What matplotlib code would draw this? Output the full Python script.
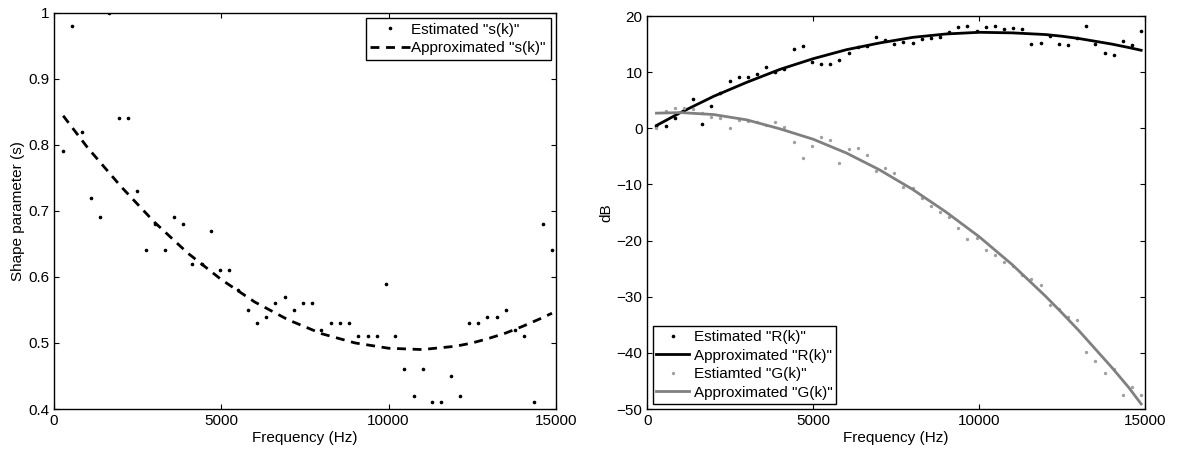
import matplotlib
matplotlib.use('Agg')
import matplotlib.pyplot as plt
import numpy as np

plt.rcParams['font.family'] = ['Liberation Sans', 'DejaVu Sans']
plt.rcParams['font.size'] = 11

# frequency bins (Hz), k = 1..54, step ~275.6 Hz
k = np.arange(1, 55)
freq = k * 275.625

# shape parameter estimates per bin
s_est = [0.79, 0.98, 0.82, 0.72, 0.69, 1.00, 0.84, 0.84, 0.73, 0.64,
         0.68, 0.64, 0.69, 0.68, 0.62, 0.62, 0.67, 0.61, 0.61, 0.58,
         0.55, 0.53, 0.54, 0.56, 0.57, 0.55, 0.56, 0.56, 0.52, 0.53,
         0.53, 0.53, 0.51, 0.51, 0.51, 0.59, 0.51, 0.46, 0.42, 0.46,
         0.41, 0.41, 0.45, 0.42, 0.53, 0.53, 0.54, 0.54, 0.55, 0.52,
         0.51, 0.41, 0.68, 0.64]

# R(k) and G(k) estimates in dB
r_est = [0.4, 0.4, 1.8, 3.3, 5.3, 0.8, 4.0, 6.2, 8.4, 9.1,
         9.2, 9.6, 11.0, 10.1, 10.5, 14.1, 14.7, 11.8, 11.5, 11.5,
         12.1, 13.5, 14.4, 14.6, 16.2, 15.7, 15.1, 15.4, 15.2, 15.9,
         16.1, 16.3, 17.1, 18.1, 18.3, 17.4, 18.1, 18.3, 17.6, 17.9,
         17.6, 15.0, 15.2, 16.5, 15.1, 14.9, 16.0, 18.2, 15.0, 13.4,
         13.1, 15.6, 14.9, 17.3]
g_est = [0.0, 3.0, 3.6, 3.6, 3.5, 2.7, 2.1, 1.9, 0.1, 1.5,
         1.3, 1.2, 0.6, 1.2, 0.3, -2.4, -5.3, -3.2, -1.5, -2.0,
         -6.1, -3.6, -3.5, -4.8, -7.6, -7.0, -8.0, -10.5, -10.7, -12.5,
         -13.8, -14.9, -15.8, -17.8, -19.8, -19.5, -21.7, -22.6, -23.8, -24.5,
         -26.1, -26.8, -28.0, -31.4, -32.1, -33.6, -34.2, -39.9, -41.5, -43.5,
         -42.8, -47.5, -46.1, -47.5]

# approximated curves
fit_freq = [275.6, 1000, 2000, 3000, 4000, 5000, 6000, 7000, 8000, 9000,
            10000, 11000, 12000, 12500, 13000, 13500, 14000, 14500, 14883.8]
s_fit = [0.844, 0.796, 0.737, 0.683, 0.636, 0.596, 0.562, 0.535, 0.514, 0.500,
         0.492, 0.490, 0.495, 0.500, 0.507, 0.515, 0.525, 0.536, 0.545]
r_fit = [0.5, 2.8, 5.7, 8.2, 10.5, 12.4, 14.0, 15.2, 16.2, 16.8,
         17.1, 17.0, 16.7, 16.4, 16.0, 15.5, 15.0, 14.4, 13.9]
g_fit = [2.7, 2.8, 2.45, 1.5, -0.1, -1.95, -4.4, -7.4, -10.9, -14.9,
         -19.3, -24.3, -29.9, -32.9, -36.0, -39.3, -42.6, -46.1, -49.1]

fig = plt.figure(figsize=(11.78, 4.5), dpi=100)
ax1 = fig.add_axes([0.0458, 0.0911, 0.4261, 0.8807])
ax2 = fig.add_axes([0.5495, 0.0911, 0.4225, 0.8733])

ax1.plot(freq, s_est, ls='none', marker='o', ms=1.6, color='black',
         label='Estimated "s(k)"')
ax1.plot(fit_freq, s_fit, ls='--', lw=2, color='black', dashes=(3.2, 2.4),
         label='Approximated "s(k)"')
ax1.set_xlim(0, 15000)
ax1.set_ylim(0.4, 1.0)
ax1.set_yticks(np.arange(0.4, 1.01, 0.1))
ax1.set_yticklabels(['0.4', '0.5', '0.6', '0.7', '0.8', '0.9', '1'])
ax1.set_xlabel('Frequency (Hz)')
ax1.set_ylabel('Shape parameter (s)')
ax1.legend(loc='upper right', fancybox=False, edgecolor='black',
           framealpha=1, borderaxespad=0.35, handlelength=2.6,
           handletextpad=0.1, borderpad=0.3, labelspacing=0.3,
           fontsize=11)

ax2.plot(freq, r_est, ls='none', marker='o', ms=1.6, color='black',
         label='Estimated "R(k)"')
ax2.plot(fit_freq, r_fit, lw=2, color='black', label='Approximated "R(k)"')
ax2.plot(freq, g_est, ls='none', marker='o', ms=1.4, color='#a0a0a0',
         label='Estiamted "G(k)"')
ax2.plot(fit_freq, g_fit, lw=2, color='#808080', label='Approximated "G(k)"')
ax2.set_xlim(0, 15000)
ax2.set_ylim(-50, 20)
ax2.set_yticks(np.arange(-50, 21, 10))
ax2.set_xlabel('Frequency (Hz)')
ax2.set_ylabel('dB')
ax2.legend(loc='lower left', fancybox=False, edgecolor='black',
           framealpha=1, borderaxespad=0.35, handlelength=2.1,
           handletextpad=0.35, borderpad=0.25, labelspacing=0.3,
           fontsize=11)

for ax in (ax1, ax2):
    ax.set_xticks([0, 5000, 10000, 15000])
    ax.tick_params(direction='in', top=True, right=True, length=3.6,
                   labelsize=11)
    for sp in ax.spines.values():
        sp.set_linewidth(1.0)
    ax.xaxis.labelpad = 2
    ax.yaxis.labelpad = 2

fig.savefig('out.png', dpi=100)
